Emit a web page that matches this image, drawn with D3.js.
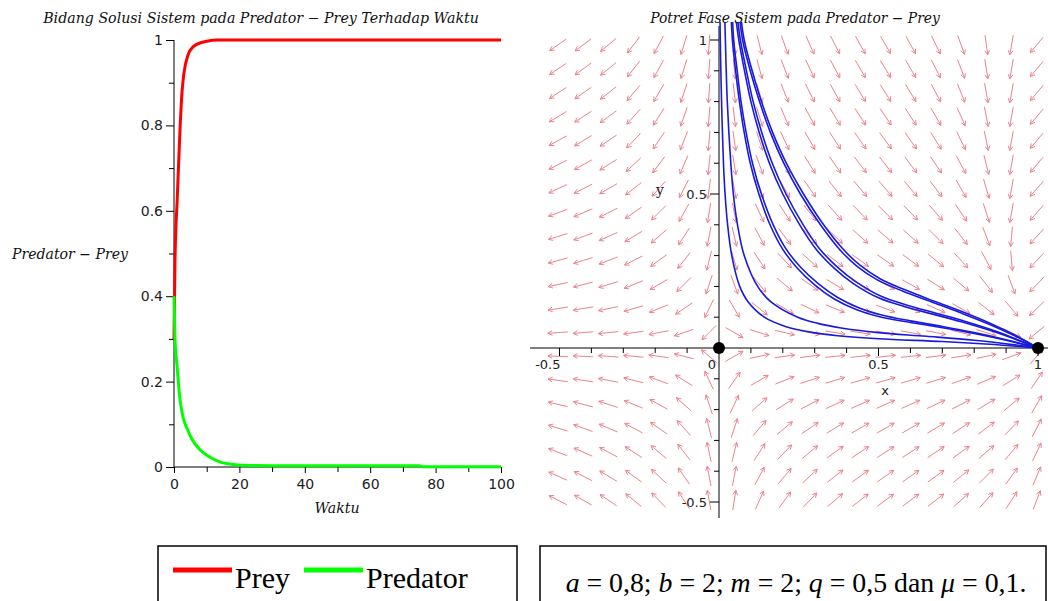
<!DOCTYPE html>
<html><head><meta charset="utf-8">
<script src="https://cdn.jsdelivr.net/npm/d3@7"></script>
<style>body{margin:0;background:#fff}svg{display:block}</style>
</head><body>
<svg id="c" width="1048" height="601"></svg>
<script>
// ---------------- data ----------------
const preyTime = [0, 0.3, 1, 1.83, 2.45, 3, 4.28, 6, 7.95, 10, 13.1, 20, 40, 60, 80, 100];
const preyVals = [0.30, 0.48, 0.63, 0.79, 0.878, 0.92, 0.965, 0.985, 0.993, 0.997, 1.0, 1.0, 1.0, 1.0, 1.0, 1.0];
const predTime = [0, 0.3, 0.9, 1.8, 2.75, 4, 5.5, 8, 11, 14, 18, 21, 30, 50, 75, 76, 100];
const predVals = [0.40, 0.30, 0.24, 0.16, 0.117, 0.09, 0.065, 0.04, 0.023, 0.012, 0.006, 0.004, 0.003, 0.003, 0.003, 0.0005, 0.0005];
const leftYTicks = [0, 0.2, 0.4, 0.6, 0.8, 1];
const leftYMinor = [0.1, 0.3, 0.5, 0.7, 0.9];
const leftXTicks = [0, 20, 40, 60, 80, 100];
const leftXMinor = [10, 30, 50, 70, 90];

const fieldX = [-0.505,-0.426,-0.347,-0.268,-0.189,-0.110,-0.031,0.048,0.127,0.206,0.285,0.364,0.443,0.522,0.601,0.680,0.759,0.838,0.917,0.996];
const fieldY = [0.984,0.906,0.828,0.751,0.673,0.595,0.517,0.439,0.362,0.284,0.206,0.128,0.050,-0.027,-0.105,-0.183,-0.260,-0.338,-0.416,-0.494];
// arrow direction in degrees (0 = right, 90 = up), one row per fieldY value
const fieldAngle = [
 [215,217,220,233,242,253,266, -84,-76,-70,-66,-63,-61,-60,-61,-64,-70,-82,-100,-130],
 [214,216,219,232,241,253,266, -84,-75,-69,-65,-62,-60,-59,-60,-63,-69,-81,-100,-130],
 [213,215,218,230,240,252,266, -83,-74,-68,-64,-61,-59,-58,-59,-62,-68,-80,-100,-130],
 [211,213,216,228,238,251,265, -83,-73,-67,-62,-59,-57,-56,-57,-60,-66,-79,-100,-130],
 [209,211,214,226,236,249,265, -82,-72,-65,-60,-57,-55,-54,-55,-58,-64,-78,-100,-130],
 [207,209,212,223,233,247,264, -81,-70,-63,-58,-55,-53,-52,-53,-56,-62,-76,-100,-130],
 [205,207,210,218,228,243,262, -80,-68,-60,-55,-52,-50,-49,-50,-53,-60,-74,-100,-131],
 [200,203,207,215,225,241,261, -79,-65,-57,-52,-48,-46,-45,-46,-49,-56,-72,-100,-131],
 [197,200,204,211,221,237,259, -77,-62,-53,-47,-44,-42,-41,-42,-45,-52,-69,-95,-132],
 [195,197,201,207,216,232,256, -74,-57,-47,-42,-38,-36,-35,-36,-39,-47,-62,-85,-133],
 [192,194,197,202,210,225,252, -70,-50,-40,-35,-31,-29,-28,-29,-32,-40,-52,-70,-134],
 [189,190,192,196,202,214,244, -60,-39,-30,-25,-22,-20,-20,-21,-24,-29,-38,-50,-136],
 [184,185,186,188,191,199,225, -30,-18,-13,-11,-10,-9,-9,-10,-11,-13,-17,-25,-140],
 [178,177,176,175,172,166,140, 30,12,8,7,6,6,6,6,7,9,12,20,50],
 [172,171,169,166,160,148,115, 55,30,22,18,17,16,16,16,17,19,23,32,56],
 [167,165,162,158,151,138,108, 65,42,32,27,25,24,24,24,25,27,31,40,60],
 [163,160,157,152,145,132,104, 72,50,40,34,31,30,30,30,31,33,37,46,63],
 [159,156,152,147,140,128,102, 76,57,46,40,36,34,33,33,34,36,41,50,65],
 [156,153,149,144,137,125,101, 79,62,50,43,38,36,35,35,36,39,45,54,67],
 [153,150,146,141,134,123,100, 81,66,54,46,41,38,37,37,38,42,48,57,69]
];

// trajectories (x, y) read from the phase portrait
const traj1 = [[0.003,1.08],[0.004,1],[0.008,0.8],[0.014,0.6],[0.019,0.5],[0.027,0.4],[0.04,0.3],[0.065,0.2],[0.091,0.15],[0.142,0.1],[0.208,0.07],[0.296,0.05],[0.372,0.04],[0.5,0.03],[0.7,0.021],[0.85,0.012],[0.95,0.004],[1,0]];
const traj2 = [[0.018,1.08],[0.02,1],[0.026,0.8],[0.037,0.6],[0.045,0.5],[0.058,0.4],[0.079,0.3],[0.121,0.2],[0.163,0.15],[0.247,0.1],[0.31,0.08],[0.383,0.065],[0.5,0.05],[0.65,0.038],[0.8,0.025],[0.92,0.011],[1,0]];
const traj3 = [[0.038,1.08],[0.042,1],[0.052,0.9],[0.064,0.8],[0.079,0.7],[0.098,0.6],[0.125,0.5],[0.16,0.4],[0.2,0.32],[0.245,0.26],[0.3,0.205],[0.36,0.16],[0.43,0.125],[0.5,0.102],[0.6,0.083],[0.7,0.066],[0.8,0.047],[0.9,0.025],[0.96,0.01],[1,0]];
const traj4 = [[0.042,1.08],[0.046,1],[0.057,0.9],[0.069,0.8],[0.085,0.7],[0.105,0.6],[0.133,0.5],[0.17,0.4],[0.21,0.322],[0.256,0.262],[0.312,0.208],[0.372,0.164],[0.44,0.13],[0.51,0.107],[0.6,0.088],[0.7,0.07],[0.8,0.05],[0.9,0.027],[0.96,0.011],[1,0]];
const traj5 = [[0.052,1.08],[0.062,1],[0.08,0.9],[0.1,0.8],[0.126,0.7],[0.158,0.6],[0.2,0.5],[0.253,0.4],[0.305,0.32],[0.36,0.26],[0.42,0.21],[0.5,0.163],[0.58,0.135],[0.67,0.11],[0.76,0.085],[0.87,0.05],[0.95,0.02],[1,0]];
const traj6 = [[0.057,1.08],[0.067,1],[0.086,0.9],[0.107,0.8],[0.134,0.7],[0.167,0.6],[0.21,0.5],[0.264,0.4],[0.317,0.32],[0.372,0.262],[0.432,0.213],[0.51,0.167],[0.59,0.139],[0.68,0.113],[0.77,0.087],[0.875,0.052],[0.95,0.021],[1,0]];
const traj7 = [[0.064,1.08],[0.074,1],[0.098,0.9],[0.127,0.8],[0.161,0.7],[0.203,0.6],[0.255,0.5],[0.318,0.4],[0.378,0.32],[0.433,0.265],[0.495,0.222],[0.575,0.185],[0.665,0.15],[0.755,0.115],[0.845,0.078],[0.93,0.038],[1,0]];
const traj8 = [[0.068,1.08],[0.079,1],[0.104,0.9],[0.133,0.8],[0.168,0.7],[0.211,0.6],[0.265,0.5],[0.328,0.4],[0.388,0.322],[0.443,0.268],[0.505,0.225],[0.585,0.188],[0.675,0.152],[0.765,0.117],[0.853,0.079],[0.933,0.039],[1,0]];
const trajectories = [traj1, traj2, traj3, traj4, traj5, traj6, traj7, traj8];

const phaseXTicks = [-0.5, 0, 0.5, 1];
const phaseYTicks = [-0.5, 0.5, 1];
const equilibria = [[0, 0], [1, 0]];

const legendItems = ["Prey", "Predator"];
const legendColors = ["#ff0000", "#00ff00"];

// ---------------- drawing ----------------
const svg = d3.select("#c");
const sans = "'DejaVu Sans', sans-serif";
const serif = "'DejaVu Serif', serif";
function fit(sel, w) {
  const m = sel.node().getComputedTextLength();
  const fs = parseFloat(sel.attr("font-size"));
  sel.attr("font-size", fs * w / m);
}

// ===== Left chart =====
const xL = d3.scaleLinear().domain([0, 100]).range([174, 501]);
const yL = d3.scaleLinear().domain([0, 1]).range([467, 40]);
const gL = svg.append("g");

function styleAxis(g) {
  g.select(".domain").remove();
  g.selectAll("line").attr("stroke", "#000").attr("stroke-width", 1);
  g.selectAll("text").attr("font-family", sans).attr("font-size", 14).attr("fill", "#222");
}
gL.append("g").attr("transform", `translate(${xL(0)},0)`)
  .call(d3.axisLeft(yL).tickValues(leftYTicks).tickSize(8).tickPadding(3).tickFormat(d => d)).call(styleAxis);
gL.append("g").attr("transform", `translate(${xL(0)},0)`)
  .call(d3.axisLeft(yL).tickValues(leftYMinor).tickSize(5).tickFormat("")).call(styleAxis);
gL.append("g").attr("transform", `translate(0,${yL(0)})`)
  .call(d3.axisBottom(xL).tickValues(leftXTicks).tickSize(6).tickPadding(6).tickFormat(d => d)).call(styleAxis);
gL.append("g").attr("transform", `translate(0,${yL(0)})`)
  .call(d3.axisBottom(xL).tickValues(leftXMinor).tickSize(5).tickFormat("")).call(styleAxis);
gL.append("line").attr("x1", xL(0)).attr("x2", xL(0)).attr("y1", yL(1)).attr("y2", yL(0)).attr("stroke", "#000");
gL.append("line").attr("x1", xL(0)).attr("x2", xL(100)).attr("y1", yL(0)).attr("y2", yL(0)).attr("stroke", "#000");

const lineL = d3.line().x(d => xL(d[0])).y(d => yL(d[1])).curve(d3.curveMonotoneX);
gL.append("path").datum(preyTime.map((t, i) => [t, preyVals[i]]))
  .attr("d", lineL).attr("fill", "none").attr("stroke", "#ff0000").attr("stroke-width", 3);
gL.append("path").datum(predTime.map((t, i) => [t, predVals[i]]))
  .attr("d", lineL).attr("fill", "none").attr("stroke", "#00ff00").attr("stroke-width", 3);

const t1 = gL.append("text").attr("x", 261).attr("y", 23).attr("text-anchor", "middle")
  .attr("font-family", serif).attr("font-style", "italic").attr("font-size", 13).attr("fill", "#111")
  .text("Bidang Solusi Sistem pada Predator \u2212 Prey Terhadap Waktu");
fit(t1, 436);
const yl = gL.append("text").attr("x", 12).attr("y", 259)
  .attr("font-family", serif).attr("font-style", "italic").attr("font-size", 13).attr("fill", "#111")
  .text("Predator \u2212 Prey");
fit(yl, 116);
const xl = gL.append("text").attr("x", 337).attr("y", 513).attr("text-anchor", "middle")
  .attr("font-family", serif).attr("font-style", "italic").attr("font-size", 13).attr("fill", "#111")
  .text("Waktu");
fit(xl, 45);

// ===== Right chart: phase portrait =====
const xR = d3.scaleLinear().domain([0, 1]).range([719, 1038]);
const yR = d3.scaleLinear().domain([0, 1]).range([348, 40]);
const gR = svg.append("g");
svg.append("defs").append("clipPath").attr("id", "clipR")
  .append("rect").attr("x", 528).attr("y", 22).attr("width", 520).attr("height", 500);

// direction field
const L = 20, H = 5, HA = 28 * Math.PI / 180;
const arrows = [];
fieldY.forEach((yv, j) => fieldX.forEach((xv, i) => arrows.push({x: xv, y: yv, a: fieldAngle[j][i]})));
gR.append("g").attr("clip-path", "url(#clipR)").selectAll("path").data(arrows).join("path")
  .attr("d", d => {
    const cx = xR(d.x), cy = yR(d.y), r = d.a * Math.PI / 180;
    const dx = Math.cos(r), dy = -Math.sin(r);
    const x0 = cx - dx * L / 2, y0 = cy - dy * L / 2, x1 = cx + dx * L / 2, y1 = cy + dy * L / 2;
    const ang = Math.atan2(dy, dx);
    const hx1 = x1 - H * Math.cos(ang - HA), hy1 = y1 - H * Math.sin(ang - HA);
    const hx2 = x1 - H * Math.cos(ang + HA), hy2 = y1 - H * Math.sin(ang + HA);
    return `M${x0},${y0}L${x1},${y1}M${hx1},${hy1}L${x1},${y1}L${hx2},${hy2}`;
  })
  .attr("fill", "none").attr("stroke", "#e8848d").attr("stroke-width", 1);

// axes
const minorX = d3.range(-5, 11).map(k => k / 10).filter(v => !phaseXTicks.includes(v) && v !== 0);
const minorY = d3.range(-5, 11).map(k => k / 10).filter(v => !phaseYTicks.includes(v) && v !== 0);
gR.append("line").attr("x1", 530).attr("x2", 1048).attr("y1", yR(0)).attr("y2", yR(0)).attr("stroke", "#000");
gR.append("line").attr("x1", xR(0)).attr("x2", xR(0)).attr("y1", 26).attr("y2", 518).attr("stroke", "#000");
gR.selectAll(".mx").data(minorX).join("line").attr("x1", d => xR(d)).attr("x2", d => xR(d))
  .attr("y1", yR(0)).attr("y2", yR(0) + 5).attr("stroke", "#000");
gR.selectAll(".Mx").data(phaseXTicks.filter(d => d !== 0)).join("line").attr("x1", d => xR(d)).attr("x2", d => xR(d))
  .attr("y1", yR(0)).attr("y2", yR(0) + 8).attr("stroke", "#000");
gR.selectAll(".my").data(minorY).join("line").attr("y1", d => yR(d)).attr("y2", d => yR(d))
  .attr("x1", xR(0) - 5).attr("x2", xR(0)).attr("stroke", "#000");
gR.selectAll(".My").data(phaseYTicks).join("line").attr("y1", d => yR(d)).attr("y2", d => yR(d))
  .attr("x1", xR(0) - 9).attr("x2", xR(0)).attr("stroke", "#000");
gR.selectAll(".tx").data(phaseXTicks).join("text")
  .attr("x", d => d < 0 ? xR(d) + 1 : d === 0 ? xR(d) - 3 : xR(d))
  .attr("y", yR(0) + 21)
  .attr("text-anchor", d => d <= 0 ? "end" : "middle")
  .attr("font-family", sans).attr("font-size", 13).attr("fill", "#222").text(d => d);
gR.selectAll(".ty").data(phaseYTicks).join("text")
  .attr("x", xR(0) - 12).attr("y", d => yR(d) + 5).attr("text-anchor", "end")
  .attr("font-family", sans).attr("font-size", 13).attr("fill", "#222").text(d => d);

// trajectories
const lineR = d3.line().x(d => xR(d[0])).y(d => yR(d[1])).curve(d3.curveCatmullRom);
gR.append("g").attr("clip-path", "url(#clipR)").selectAll("path").data(trajectories).join("path")
  .attr("d", lineR).attr("fill", "none").attr("stroke", "#1a1adc").attr("stroke-width", 1.6);

gR.selectAll(".eq").data(equilibria).join("circle")
  .attr("cx", d => xR(d[0])).attr("cy", d => yR(d[1])).attr("r", 6).attr("fill", "#000");

const t2 = gR.append("text").attr("x", 795).attr("y", 23).attr("text-anchor", "middle")
  .attr("font-family", serif).attr("font-style", "italic").attr("font-size", 13).attr("fill", "#111")
  .text("Potret Fase Sistem pada Predator \u2212 Prey");
fit(t2, 290);
gR.append("text").attr("x", 660).attr("y", 195).attr("text-anchor", "middle")
  .attr("font-family", serif).attr("font-size", 14).attr("fill", "#222").text("y");
gR.append("text").attr("x", 885).attr("y", 395).attr("text-anchor", "middle")
  .attr("font-family", sans).attr("font-size", 13).attr("fill", "#222").text("x");

// ===== Legend boxes =====
const gB = svg.append("g");
gB.append("rect").attr("x", 158).attr("y", 546).attr("width", 359).attr("height", 70)
  .attr("fill", "#fff").attr("stroke", "#000").attr("stroke-width", 1.5);
const legX = [173, 304];
legendItems.forEach((name, i) => {
  gB.append("line").attr("x1", legX[i]).attr("x2", legX[i] + 59).attr("y1", 570).attr("y2", 570)
    .attr("stroke", legendColors[i]).attr("stroke-width", 5);
  gB.append("text").attr("x", legX[i] + 62).attr("y", 588)
    .attr("font-family", "'Liberation Serif', serif").attr("font-size", 30).attr("fill", "#000").text(name);
});
gB.append("rect").attr("x", 540).attr("y", 546).attr("width", 506).attr("height", 70)
  .attr("fill", "#fff").attr("stroke", "#000").attr("stroke-width", 1.5);
const eq = gB.append("text").attr("x", 796).attr("y", 592).attr("text-anchor", "middle")
  .attr("font-family", "'Liberation Serif', serif").attr("font-size", 22).attr("fill", "#000");
const parts = [["a", 1], [" = 0,8;  ", 0], ["b", 1], [" = 2;  ", 0], ["m", 1], [" = 2;  ", 0], ["q", 1], [" = 0,5 dan ", 0], ["\u03bc", 1], [" = 0,1.", 0]];
parts.forEach(p => eq.append("tspan").attr("font-style", p[1] ? "italic" : "normal").text(p[0]));
fit(eq, 461);
</script>
</body></html>
